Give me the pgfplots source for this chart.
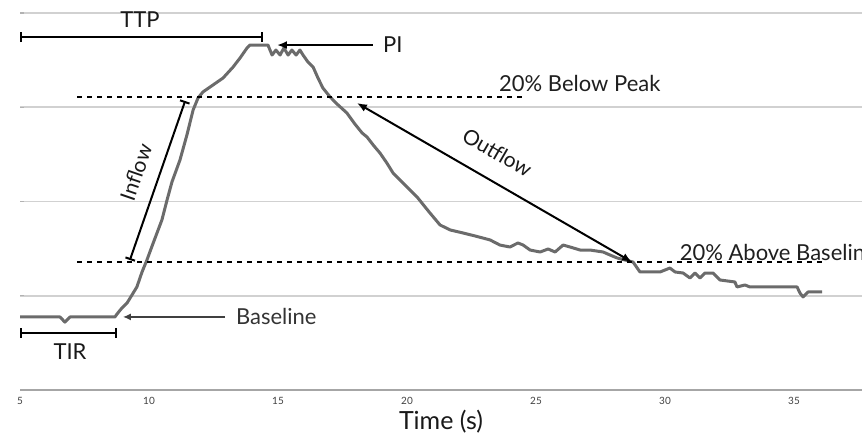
\documentclass[border=0pt]{standalone}
\usepackage{fontspec}
\setmainfont{Lato}
\usepackage{pgfplots}
\pgfplotsset{compat=1.18}
\usetikzlibrary{arrows.meta}
\begin{document}
\begin{tikzpicture}
\begin{axis}[
  scale only axis, width=421pt, height=188.5pt,
  xmin=5, xmax=37.636, ymin=0, ymax=4,
  axis x line*=bottom, axis y line*=left,
  x axis line style={draw=black!35, line width=1.2pt, -},
  y axis line style={draw=none},
  xtick={5,10,15,20,25,30,35},
  xtick style={draw=none},
  ytick={1,2,3,4}, yticklabels={},
  ytick style={draw=black!30, line width=0.6pt},
  major tick length=2pt,
  ymajorgrids, grid style={black!18, line width=0.9pt},
  tick label style={font=\fontsize{5}{6}\selectfont, text=black!75},
  xlabel={Time (s)}, xlabel style={font=\fontsize{12.5}{14}\selectfont, text=black!90, yshift=4pt},
  clip=false,
  /pgf/number format/assume math mode=true,
]
\coordinate (BL) at (rel axis cs:0,0);
\coordinate (TR) at (rel axis cs:1,1);
% curve
\addplot[black!58, line width=1.5pt, line join=round] coordinates {
(5,0.775) (6.55,0.775) (6.74,0.72) (6.94,0.775) (8.68,0.775)
(8.76,0.806) (8.95,0.87) (9.15,0.923) (9.34,1.008) (9.53,1.093) (9.73,1.252)
(9.92,1.379) (10.12,1.528) (10.31,1.666) (10.50,1.804) (10.70,2.016) (10.89,2.207)
(11.20,2.440) (11.47,2.706) (11.71,2.971) (11.90,3.098) (12.09,3.162) (12.48,3.236)
(12.87,3.310) (13.26,3.427) (13.53,3.523) (13.80,3.629) (13.91,3.660) (14.50,3.660)
(14.61,3.660) (14.77,3.554) (14.92,3.607) (15.08,3.554) (15.23,3.629) (15.39,3.554)
(15.54,3.607) (15.70,3.554) (15.85,3.607) (15.97,3.554)
(16.16,3.480) (16.36,3.427) (16.55,3.310) (16.74,3.204) (17.02,3.109) (17.29,3.034)
(17.67,2.939) (17.98,2.822) (18.26,2.727) (18.45,2.684) (18.72,2.589) (18.95,2.515)
(19.22,2.408) (19.46,2.302) (19.73,2.228) (20.04,2.143) (20.39,2.048) (20.70,1.942)
(20.89,1.878) (21.28,1.751) (21.67,1.698) (22.17,1.666) (22.64,1.634) (23.22,1.592)
(23.60,1.538) (23.99,1.517) (24.30,1.560) (24.50,1.538) (24.77,1.485) (25.16,1.464)
(25.47,1.496) (25.74,1.464) (26.05,1.538) (26.32,1.517) (26.71,1.485) (27.09,1.485)
(27.60,1.464) (27.87,1.432) (28.14,1.401) (28.45,1.379) (28.76,1.358) (29.03,1.252)
(29.81,1.252) (30.19,1.294) (30.39,1.252) (30.70,1.241) (30.97,1.188) (31.16,1.241)
(31.36,1.188) (31.55,1.241) (31.86,1.241) (32.13,1.167) (32.71,1.146) (32.79,1.093)
(33.10,1.114) (33.29,1.093) (35.12,1.093) (35.23,1.029) (35.35,0.987) (35.54,1.040)
(36.09,1.040)
};
% threshold lines
\addplot[black, line width=1pt, dash pattern=on 2.5pt off 2.5pt] coordinates {(7.21,3.109) (24.65,3.109)};
\addplot[black, line width=1pt, dash pattern=on 2.5pt off 2.5pt] coordinates {(7.21,1.358) (36.12,1.358)};
% annotation lines
\addplot[black, line width=1pt, {Bar[width=5pt]}-{Bar[width=5pt]}] coordinates {(5,3.745) (14.42,3.745)};
\addplot[black, line width=1pt, -{Latex[length=5pt,width=4pt]}] coordinates {(18.68,3.660) (14.96,3.660)};
\addplot[black, line width=1pt, {Bar[width=5pt]}-{Bar[width=5pt]}] coordinates {(9.26,1.379) (11.40,3.066)};
\addplot[black, line width=1pt, {Latex[length=5pt,width=4pt]}-{Latex[length=5pt,width=4pt]}] coordinates {(18.06,3.045) (28.72,1.358)};
\addplot[black!75, line width=0.7pt, -{Latex[length=4pt,width=3.5pt]}] coordinates {(12.95,0.775) (8.99,0.775)};
\addplot[black, line width=1pt, {Bar[width=5pt]}-{Bar[width=5pt]}] coordinates {(5,0.605) (8.76,0.605)};
% labels
\node[font=\fontsize{11}{13}\selectfont, text=black!90] at (axis cs:9.65,3.926) {TTP};
\node[font=\fontsize{11}{13}\selectfont, text=black!90, anchor=west] at (axis cs:18.8,3.660) {PI};
\node[font=\fontsize{11}{13}\selectfont, text=black!88, anchor=west] at (axis cs:23.3,3.257) {20\% Below Peak};
\node[font=\fontsize{11}{13}\selectfont, text=black!88, anchor=west] at (axis cs:30.3,1.464) {20\% Above Baseline};
\node[font=\fontsize{10.5}{12}\selectfont, text=black!90, rotate=71] at (axis cs:9.5,2.31) {Inflow};
\node[font=\fontsize{10.5}{12}\selectfont, text=black!90, rotate=-30] at (axis cs:23.5,2.52) {Outflow};
\node[font=\fontsize{11}{13}\selectfont, text=black!80, anchor=west] at (axis cs:13.1,0.775) {Baseline};
\node[font=\fontsize{11}{13}\selectfont, text=black!90] at (axis cs:6.94,0.403) {TIR};
\end{axis}
\pgfresetboundingbox
\path[use as bounding box] ([xshift=-10pt,yshift=-24.5pt]BL) rectangle ([yshift=6.5pt]TR);
\end{tikzpicture}
\end{document}
